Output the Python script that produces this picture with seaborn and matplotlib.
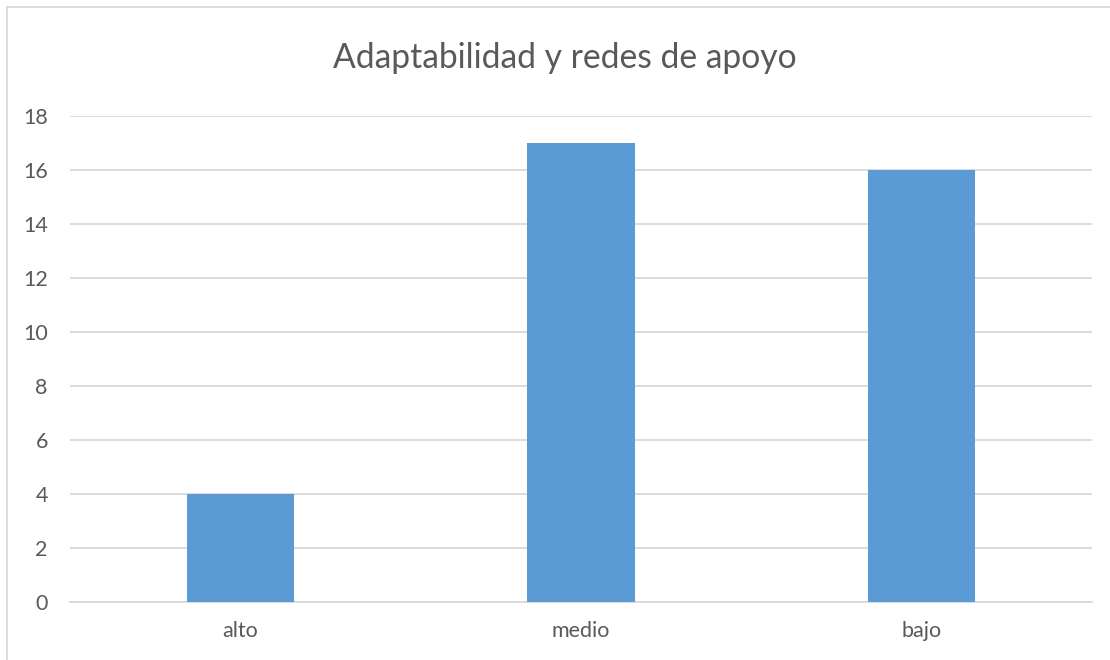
import matplotlib
matplotlib.use("Agg")
import matplotlib.pyplot as plt
import seaborn as sns
import pandas as pd
from matplotlib.patches import Rectangle

categories = ["alto", "medio", "bajo"]
values = [4, 17, 16]
yticks = [0, 2, 4, 6, 8, 10, 12, 14, 16, 18]

sns.set_theme(style="white")
plt.rcParams["font.family"] = ["Lato", "DejaVu Sans"]

df = pd.DataFrame({"nivel": categories, "cantidad": values})

W, H = 1110, 660
fig = plt.figure(figsize=(W / 100, H / 100), dpi=100)
ax = fig.add_axes([70 / W, 1 - 602 / H, (1092 - 70) / W, (602 - 116) / H])

sns.barplot(data=df, x="nivel", y="cantidad", color="#5B9BD5", width=0.315,
            saturation=1, linewidth=0, ax=ax, zorder=3)

ax.set_ylim(0, 18)
ax.set_xlim(-0.5, 2.5)
ax.set_yticks(yticks)
ax.yaxis.grid(True, color="#D9D9D9", linewidth=1.3, zorder=0)
ax.set_axisbelow(True)
for side in ["top", "right", "left"]:
    ax.spines[side].set_visible(False)
ax.spines["bottom"].set_color("#D9D9D9")
ax.spines["bottom"].set_linewidth(1.3)
ax.tick_params(axis="both", length=0, labelsize=15.5, colors="#595959")
ax.tick_params(axis="y", pad=16)
ax.tick_params(axis="x", pad=14)
ax.set_xlabel("")
ax.set_ylabel("")

fig.text(565 / W, 1 - 58 / H, "Adaptabilidad y redes de apoyo", ha="center",
         va="center", fontsize=24.2, color="#595959")

# chart frame
fig.patches.append(Rectangle((7 / W, -0.1), 1.2, 1 - 7 / H + 0.1,
                             transform=fig.transFigure, fill=False,
                             edgecolor="#D9D9D9", linewidth=1.3))

fig.savefig("out.png", dpi=100)
